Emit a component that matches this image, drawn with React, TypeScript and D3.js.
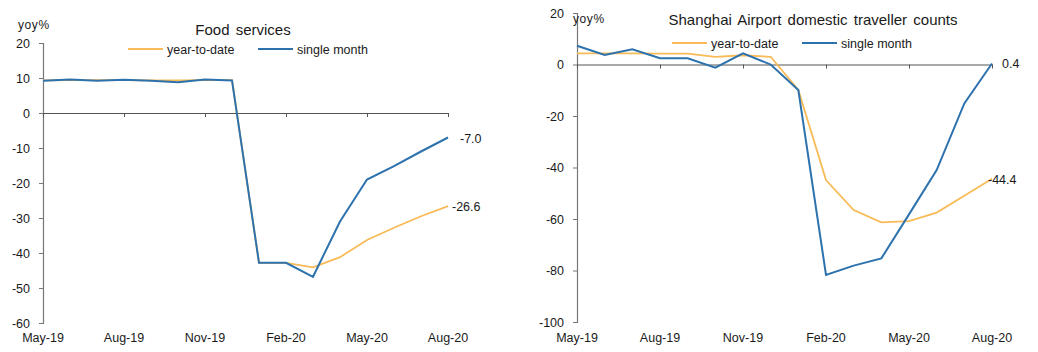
import React, { useEffect, useRef } from 'react';
import * as d3 from 'd3';

// Months on the x axis (May-19 .. Aug-20)
const months = [
  'May-19', 'Jun-19', 'Jul-19', 'Aug-19', 'Sep-19', 'Oct-19', 'Nov-19', 'Dec-19',
  'Jan-20', 'Feb-20', 'Mar-20', 'Apr-20', 'May-20', 'Jun-20', 'Jul-20', 'Aug-20'
];
const xTickLabels = ['May-19', 'Aug-19', 'Nov-19', 'Feb-20', 'May-20', 'Aug-20'];

// Food services, yoy %
const foodYtd = [9.3, 9.4, 9.4, 9.4, 9.3, 9.3, 9.4, 9.4, -42.8, -42.8, -44.1, -41.2, -36.3, -32.8, -29.5, -26.6];
const foodMonth = [9.2, 9.6, 9.2, 9.5, 9.2, 8.8, 9.6, 9.3, -42.8, -42.8, -46.8, -31.0, -19.0, -15.2, -11.0, -7.0];
const foodTicks = [20, 10, 0, -10, -20, -30, -40, -50, -60];

// Shanghai Airport domestic traveller counts, yoy %
const airYtd = [4.3, 4.3, 4.3, 4.2, 4.2, 3.0, 3.6, 3.0, -9.9, -44.9, -56.5, -61.3, -60.8, -57.5, -51.0, -44.4];
const airMonth = [7.3, 3.7, 5.9, 2.4, 2.4, -1.2, 4.3, 0.0, -9.9, -81.7, -78.1, -75.3, -58.2, -41.0, -15.1, 0.4];
const airTicks = [20, 0, -20, -40, -60, -80, -100];

const seriesNames = ['year-to-date', 'single month'];

const YELLOW = '#f8bb57';
const BLUE = '#2e72ad';
const TEXT = '#1a1a1a';
const FONT = '"Liberation Sans", Arial, sans-serif';

type Panel = {
  title: string;
  ytd: number[];
  month: number[];
  ticks: number[];
  left: number;
  right: number;
  top: number;
  bottom: number;
  titleX: number;
  titleY: number;
  legendX: number;
  legendY: number;
  unitX: number;
  unitY: number;
  ytdLabel: [number, number];
  monthLabel: [number, number];
};

const panels: Panel[] = [
  {
    title: 'Food services', ytd: foodYtd, month: foodMonth, ticks: foodTicks,
    left: 43, right: 448, top: 43, bottom: 323,
    titleX: 243, titleY: 35, legendX: 128, legendY: 49, unitX: 18, unitY: 29,
    ytdLabel: [4, 5], monthLabel: [12, 5]
  },
  {
    title: 'Shanghai Airport domestic traveller counts', ytd: airYtd, month: airMonth, ticks: airTicks,
    left: 577, right: 992, top: 13, bottom: 322,
    titleX: 813, titleY: 25, legendX: 672, legendY: 43, unitX: 573, unitY: 23,
    ytdLabel: [-4, 5], monthLabel: [10, 5]
  }
];

// plain hyphen for negatives, like the source chart
const fmt = (v: number) => String(v);

const App = () => {
  const ref = useRef<SVGSVGElement>(null);

  useEffect(() => {
    const svg = d3.select(ref.current);
    svg.selectAll('*').remove();

    panels.forEach((p) => {
      const g = svg.append('g');

      const x = d3.scalePoint<string>().domain(months).range([p.left, p.right]);
      const y = d3.scaleLinear()
        .domain([p.ticks[p.ticks.length - 1], p.ticks[0]])
        .range([p.bottom, p.top]);

      // y axis
      const yAxis = g.append('g')
        .attr('transform', `translate(${p.left},0)`)
        .call(d3.axisLeft(y).tickValues(p.ticks).tickSize(4).tickPadding(9).tickFormat(d => fmt(+d)));
      yAxis.select('.domain').attr('stroke', '#777').attr('stroke-width', 1.2);
      yAxis.selectAll('.tick line').attr('stroke', '#777');
      yAxis.selectAll('text')
        .attr('font-family', FONT)
        .attr('font-size', 12.5)
        .attr('fill', TEXT);

      // x axis along the zero line
      const xAxis = g.append('g')
        .attr('transform', `translate(0,${y(0)})`)
        .call(d3.axisBottom(x).tickValues(xTickLabels).tickSize(4).tickSizeOuter(0).tickFormat(() => ''));
      xAxis.select('.domain').attr('stroke', '#555').attr('stroke-width', 1);
      xAxis.selectAll('.tick line').attr('stroke', '#555');

      // x tick labels at the bottom
      g.selectAll('.xlabel')
        .data(xTickLabels)
        .enter()
        .append('text')
        .attr('x', d => x(d) as number)
        .attr('y', 342)
        .attr('text-anchor', 'middle')
        .attr('font-family', FONT)
        .attr('font-size', 12.5)
        .attr('fill', TEXT)
        .text(d => d);

      // lines
      const line = d3.line<number>()
        .x((_, i) => x(months[i]) as number)
        .y(d => y(d));

      g.append('path')
        .datum(p.ytd)
        .attr('fill', 'none')
        .attr('stroke', YELLOW)
        .attr('stroke-width', 1.8)
        .attr('d', line);

      g.append('path')
        .datum(p.month)
        .attr('fill', 'none')
        .attr('stroke', BLUE)
        .attr('stroke-width', 2)
        .attr('d', line);

      // end labels
      const last = months.length - 1;
      g.append('text')
        .attr('x', (x(months[last]) as number) + p.ytdLabel[0])
        .attr('y', y(p.ytd[last]) + p.ytdLabel[1])
        .attr('font-family', FONT)
        .attr('font-size', 12.5)
        .attr('fill', TEXT)
        .text(p.ytd[last].toFixed(1));
      g.append('text')
        .attr('x', (x(months[last]) as number) + p.monthLabel[0])
        .attr('y', y(p.month[last]) + p.monthLabel[1])
        .attr('font-family', FONT)
        .attr('font-size', 12.5)
        .attr('fill', TEXT)
        .text(p.month[last].toFixed(1));

      // title
      g.append('text')
        .attr('x', p.titleX)
        .attr('y', p.titleY)
        .attr('text-anchor', 'middle')
        .attr('font-family', FONT)
        .attr('font-size', 15)
        .attr('word-spacing', 2)
        .attr('fill', TEXT)
        .text(p.title);

      // unit
      g.append('text')
        .attr('x', p.unitX)
        .attr('y', p.unitY)
        .attr('font-family', FONT)
        .attr('font-size', 12)
        .attr('letter-spacing', 0.6)
        .attr('fill', TEXT)
        .text('yoy%');

      // legend
      const colors = [YELLOW, BLUE];
      seriesNames.forEach((name, i) => {
        const lx = p.legendX + i * 130;
        g.append('line')
          .attr('x1', lx).attr('x2', lx + 35)
          .attr('y1', p.legendY).attr('y2', p.legendY)
          .attr('stroke', colors[i])
          .attr('stroke-width', i === 0 ? 1.8 : 2);
        g.append('text')
          .attr('x', lx + 39)
          .attr('y', p.legendY + 4.5)
          .attr('font-family', FONT)
          .attr('font-size', 12.5)
          .attr('fill', TEXT)
          .text(name);
      });
    });
  }, []);

  return (
    <svg
      ref={ref}
      width={1038}
      height={352}
      style={{ position: 'absolute', left: 0, top: 0, background: '#fff' }}
    />
  );
};

export default App;
